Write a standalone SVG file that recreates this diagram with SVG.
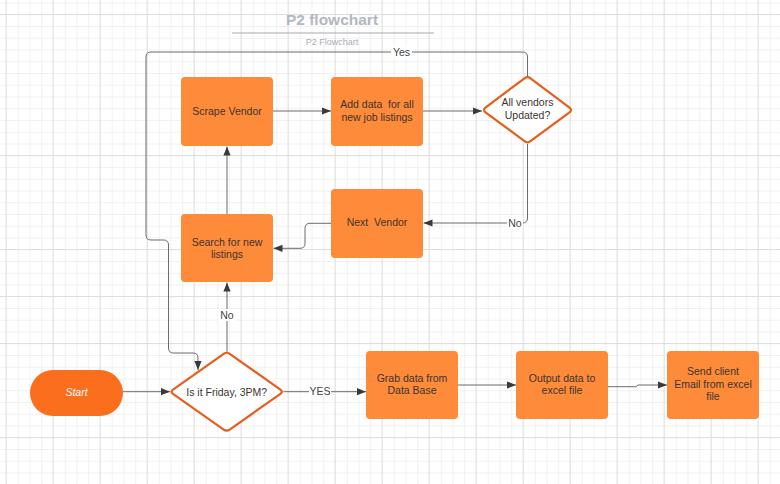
<svg xmlns="http://www.w3.org/2000/svg" width="780" height="484" viewBox="0 0 780 484">
<defs>
<pattern id="minor" width="11.75" height="11.75" patternUnits="userSpaceOnUse" x="6" y="2.5">
<path d="M0 0H11.75M0 0V11.75" fill="none" stroke="#e4e4e4" stroke-width="1"/>
</pattern>
<pattern id="major" width="47" height="47" patternUnits="userSpaceOnUse" x="5.5" y="14">
<path d="M0 0H47M0 0V47" fill="none" stroke="#d9d9d9" stroke-width="1.4"/>
</pattern>
<marker id="arr" viewBox="0 0 10 10" refX="10" refY="5" markerWidth="9" markerHeight="9" markerUnits="userSpaceOnUse" orient="auto">
<path d="M0 1L10 5L0 9z" fill="#3a3a3a"/>
</marker>
<style>
.box{fill:#fd8b39;}
.dia{fill:#ffffff;stroke:#e85d1b;stroke-width:2.2;stroke-linejoin:round;}
.t{font-family:"Liberation Sans",Arial,sans-serif;font-size:10.5px;fill:#3d3430;text-anchor:middle;white-space:pre;}
.c{fill:none;stroke:#6b6b6b;stroke-width:1;}
.lbl{font-family:"Liberation Sans",Arial,sans-serif;font-size:10.5px;fill:#444;text-anchor:middle;}
.lbg{fill:#ffffff;}
</style>
</defs>
<rect width="780" height="484" fill="#ffffff"/>
<rect width="780" height="484" fill="url(#minor)"/>
<rect width="780" height="484" fill="url(#major)"/>

<g id="title">
<text x="332" y="25" font-family="Liberation Sans,Arial,sans-serif" font-size="15.5" font-weight="bold" fill="#b3b7bf" text-anchor="middle">P2 flowchart</text>
<line x1="232" y1="33" x2="434" y2="33" stroke="#a5a9b0" stroke-width="1.2"/>
<text x="332" y="45" font-family="Liberation Sans,Arial,sans-serif" font-size="9" fill="#a9adb5" text-anchor="middle">P2 Flowchart</text>
</g>

<g id="connectors">
<path class="c" d="M527.5 76V57Q527.5 52 522.5 52H151Q146 52 146 57V235Q146 240 151 240H163.5Q168.5 240 168.5 245V348Q168.5 353 173.5 353H193Q198 353 198 358V370" marker-end="url(#arr)"/>
<rect class="lbg" x="391" y="46" width="21" height="12"/>
<text class="lbl" x="401.5" y="55.5">Yes</text>
<path class="c" d="M273 111H331" marker-end="url(#arr)"/>
<path class="c" d="M423 111H482" marker-end="url(#arr)"/>
<path class="c" d="M527.5 144V218Q527.5 223 522.5 223H423.5" marker-end="url(#arr)"/>
<rect class="lbg" x="507" y="217" width="16" height="12"/>
<text class="lbl" x="515" y="226.5">No</text>
<path class="c" d="M331 223.3H310Q305 223.3 305 228.3V243.3Q305 248.3 300 248.3H273.5" marker-end="url(#arr)"/>
<path class="c" d="M227 214V146.5" marker-end="url(#arr)"/>
<path class="c" d="M227 351.7V282.5" marker-end="url(#arr)"/>
<rect class="lbg" x="218" y="309" width="18" height="12"/>
<text class="lbl" x="227" y="318.5">No</text>
<path class="c" d="M123 391.7H170" marker-end="url(#arr)"/>
<path class="c" d="M283.5 391.7H366" marker-end="url(#arr)"/>
<rect class="lbg" x="309" y="385" width="22" height="12"/>
<text class="lbl" x="320" y="394.5">YES</text>
<path class="c" d="M458 385H516" marker-end="url(#arr)"/>
<path class="c" d="M608 386.7H636L638 385H667" marker-end="url(#arr)"/>
</g>

<g id="scrape">
<rect class="box" x="181" y="77" width="92" height="69" rx="4"/>
<text class="t" x="227" y="114.5">Scrape Vendor</text>
</g>
<g id="adddata">
<rect class="box" x="331" y="77" width="92" height="69" rx="4"/>
<text class="t" x="377" y="108" xml:space="preserve">Add data  for all</text>
<text class="t" x="377" y="121">new job listings</text>
</g>
<g id="allvendors">
<path class="dia" d="M524.5 78.3Q527.5 76 530.5 78.3L569.5 107.7Q572.5 110 569.5 112.3L530.5 141.2Q527.5 143.5 524.5 141.2L485.5 112.3Q482.5 110 485.5 107.7Z"/>
<text class="t" x="527.5" y="106">All vendors</text>
<text class="t" x="527.5" y="119">Updated?</text>
</g>
<g id="nextvendor">
<rect class="box" x="331" y="189" width="92" height="69" rx="4"/>
<text class="t" x="377" y="226" xml:space="preserve">Next  Vendor</text>
</g>
<g id="search">
<rect class="box" x="181" y="214" width="92" height="68" rx="4"/>
<text class="t" x="227" y="245.5">Search for new</text>
<text class="t" x="227" y="258">listings</text>
</g>
<g id="start">
<rect x="30" y="370" width="93" height="46" rx="23" fill="#fa6e1e"/>
<text x="76.5" y="395.5" font-family="Liberation Sans,Arial,sans-serif" font-size="10.5" font-style="italic" fill="#ffffff" text-anchor="middle">Start</text>
</g>
<g id="friday">
<path class="dia" d="M223.7 353.8Q226.7 351.7 229.7 353.8L280.4 389.6Q283.4 391.7 280.4 393.8L229.7 429.6Q226.7 431.7 223.7 429.6L173 393.8Q170 391.7 173 389.6Z"/>
<text class="t" x="226.7" y="395.5">Is it Friday, 3PM?</text>
</g>
<g id="grab">
<rect class="box" x="366" y="351" width="92" height="68" rx="4"/>
<text class="t" x="412" y="381.5">Grab data from</text>
<text class="t" x="412" y="394">Data Base</text>
</g>
<g id="output">
<rect class="box" x="516" y="351" width="92" height="68" rx="4"/>
<text class="t" x="562" y="381.5">Output data to</text>
<text class="t" x="562" y="394">excel file</text>
</g>
<g id="send">
<rect class="box" x="667" y="351" width="92" height="68" rx="4"/>
<text class="t" x="713" y="375">Send client</text>
<text class="t" x="713" y="387.5">Email from excel</text>
<text class="t" x="713" y="400">file</text>
</g>
</svg>
